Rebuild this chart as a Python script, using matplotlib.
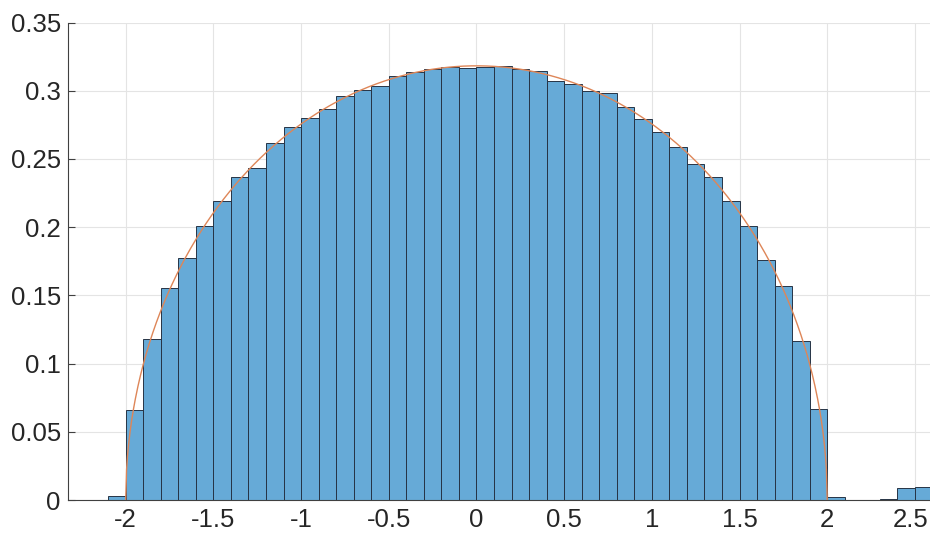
import numpy as np
import matplotlib
matplotlib.use("Agg")
import matplotlib.pyplot as plt
import matplotlib.transforms as mtransforms

# Histogram of eigenvalues (probability density), bin width 0.1
bin_start = -2.1
bin_width = 0.1
density = [
    0.0027, 0.0660, 0.1178, 0.1554, 0.1772, 0.2006, 0.2195, 0.2366, 0.2434,
    0.2617, 0.2732, 0.2801, 0.2864, 0.2962, 0.3004, 0.3033, 0.3111, 0.3135,
    0.3162, 0.3174, 0.3165, 0.3172, 0.3179, 0.3158, 0.3145, 0.3074, 0.3052,
    0.3001, 0.2981, 0.2881, 0.2796, 0.2698, 0.2590, 0.2466, 0.2366, 0.2195,
    0.2011, 0.1760, 0.1567, 0.1163, 0.0670, 0.0022, 0.0, 0.0, 0.0010,
    0.0088, 0.0095,
]

x_ticks = [-2, -1.5, -1, -0.5, 0, 0.5, 1, 1.5, 2, 2.5]
x_tick_labels = ["-2", "-1.5", "-1", "-0.5", "0", "0.5", "1", "1.5", "2", "2.5"]
y_ticks = [0, 0.05, 0.1, 0.15, 0.2, 0.25, 0.3, 0.35]
y_tick_labels = ["0", "0.05", "0.1", "0.15", "0.2", "0.25", "0.3", "0.35"]

# Wigner semicircle law with radius 2
radius = 2.0

plt.rcParams["font.family"] = ["Liberation Sans", "DejaVu Sans"]
plt.rcParams["axes.unicode_minus"] = False

fig = plt.figure(figsize=(9.3, 5.33), dpi=100)
ax = fig.add_axes([67.7 / 930, 33 / 533, (932.5 - 67.7) / 930, 477.4 / 533])

lefts = bin_start + bin_width * np.arange(len(density))
ax.bar(lefts, density, width=bin_width, align="edge",
       color="#66AAD7", edgecolor="#263445", linewidth=0.7, zorder=2)

xs = np.linspace(-radius, radius, 801)
ax.plot(xs, np.sqrt(radius**2 - xs**2) / (2 * np.pi),
        color="#DE8658", linewidth=1.0, zorder=3)

ax.set_xlim(-2.3307, 2.6)
ax.set_ylim(0, 0.35)
ax.set_xticks(x_ticks)
ax.set_xticklabels(x_tick_labels)
ax.set_yticks(y_ticks)
ax.set_yticklabels(y_tick_labels)

ax.grid(True, color="#e4e4e4", linewidth=0.8, zorder=0)
ax.set_axisbelow(True)
for side in ["top", "right"]:
    ax.spines[side].set_visible(False)
for side in ["left", "bottom"]:
    ax.spines[side].set_color("#404040")
    ax.spines[side].set_linewidth(0.8)

ax.tick_params(axis="both", direction="in", length=5, width=0.8,
               color="#404040", labelcolor="#262626", labelsize=18.5)
ax.tick_params(axis="x", pad=6)
ax.tick_params(axis="y", pad=5)

# last label sits right on the figure edge; nudge it inside a little
last = ax.get_xticklabels()[-1]
last.set_transform(last.get_transform() +
                   mtransforms.ScaledTranslation(-4 / 100, 0, fig.dpi_scale_trans))

fig.savefig("out.png", dpi=100)
